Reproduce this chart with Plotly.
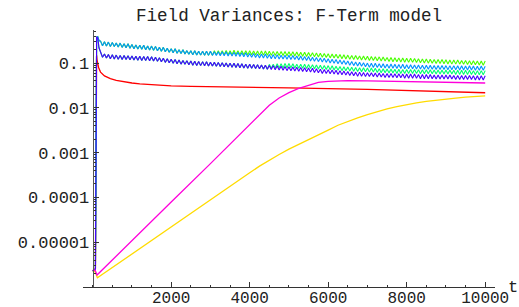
import plotly.graph_objects as go

# ---------------- data ----------------
title_text = "Field Variances: F-Term model"
x_tick_vals = [2000, 4000, 6000, 8000, 10000]
x_tick_text = ["2000", "4000", "6000", "8000", "10000"]
y_tick_vals = [1e-5, 1e-4, 1e-3, 1e-2, 1e-1]
y_tick_text = ["0.00001", "0.0001", "0.001", "0.01", "0.1"]

# smooth series
red_t = [0, 70, 100, 110, 150, 200, 300, 450, 600, 800, 1000, 1200, 1500, 2000, 2500, 3500, 5000, 7000, 8500, 10000]
red_v = [2.3e-6, 2.6e-6, 0.15, 0.12, 0.08, 0.063, 0.052, 0.045, 0.041, 0.038, 0.036, 0.0345, 0.0328, 0.0312, 0.0303, 0.0296, 0.028, 0.026, 0.0235, 0.0218]

yellow_t = [0, 60, 120, 1000, 2000, 3000, 3500, 4000, 4250, 4500, 4750, 5000, 5250, 5500, 5750, 6000,
            6250, 6500, 6750, 7000, 7250, 7500, 7750, 8000, 8250, 8500, 8750, 9000, 9250, 9500, 9750, 10000]
yellow_v = [2.3e-6, 2.2e-6, 1.6e-6, 5.5e-6, 2.2e-5, 8.7e-5, 1.78e-4, 3.55e-4, 5.0e-4, 6.8e-4, 9.1e-4, 1.2e-3, 1.55e-3, 2.0e-3, 2.5e-3, 3.2e-3,
            4.1e-3, 5.0e-3, 6.0e-3, 7.1e-3, 8.3e-3, 9.5e-3, 1.07e-2, 0.012, 0.013, 0.014, 0.015, 0.016, 0.0166, 0.0174, 0.018, 0.0186]

magenta_t = [0, 60, 110, 1000, 2000, 3000, 3500, 4000, 4250, 4500, 4750, 5000, 5250, 5500, 5750, 6000, 6500, 7000, 8000, 9000, 10000]
magenta_v = [2.3e-6, 2.4e-6, 1.85e-6, 1.1e-5, 7.9e-5, 5.7e-4, 1.55e-3, 4.2e-3, 7.2e-3, 0.0115, 0.0166, 0.0219, 0.0272, 0.0316, 0.0372, 0.039, 0.0407, 0.040, 0.039, 0.037, 0.036]

# noisy series: start-up spike, then oscillation peaks (t = 200, 300, ..., 10000)
# and troughs (t = 250, 350, ..., 9950)
spike_t = [0, 70, 100, 130, 160]
peak_t = list(range(200, 10001, 100))
trough_t = list(range(250, 9951, 100))

azure_spike = [2.3e-6, 2.5e-6, 0.37, 0.39, 0.32]
azure_peaks = [
    0.31, 0.30, 0.295, 0.29, 0.28, 0.28, 0.27, 0.27, 0.26, 0.255,
    0.25, 0.25, 0.24, 0.24, 0.235, 0.225, 0.225, 0.215, 0.21, 0.21,
    0.20, 0.20, 0.19, 0.19, 0.19, 0.185, 0.185, 0.185, 0.185, 0.18,
    0.18, 0.18, 0.18, 0.175, 0.175, 0.175, 0.17, 0.17, 0.165, 0.165,
    0.16, 0.16, 0.16, 0.155, 0.155, 0.155, 0.15, 0.15, 0.15, 0.148,
    0.145, 0.144, 0.14, 0.14, 0.136, 0.134, 0.13, 0.128, 0.125, 0.122,
    0.12, 0.117, 0.114, 0.111, 0.109, 0.106, 0.104, 0.102, 0.10, 0.099,
    0.099, 0.097, 0.097, 0.095, 0.096, 0.094, 0.093, 0.094, 0.092, 0.092,
    0.091, 0.091, 0.09, 0.09, 0.09, 0.089, 0.089, 0.089, 0.088, 0.088,
    0.088, 0.087, 0.087, 0.086, 0.087, 0.086, 0.085, 0.086, 0.085,
]
azure_troughs = [
    0.245, 0.24, 0.235, 0.235, 0.23, 0.225, 0.22, 0.215, 0.21, 0.208,
    0.204, 0.20, 0.197, 0.193, 0.189, 0.184, 0.18, 0.175, 0.171, 0.167,
    0.164, 0.16, 0.157, 0.153, 0.152, 0.151, 0.15, 0.149, 0.149, 0.148,
    0.147, 0.146, 0.145, 0.144, 0.142, 0.14, 0.139, 0.137, 0.135, 0.133,
    0.131, 0.13, 0.128, 0.126, 0.125, 0.124, 0.123, 0.122, 0.121, 0.12,
    0.118, 0.116, 0.114, 0.112, 0.11, 0.108, 0.106, 0.104, 0.101, 0.099,
    0.097, 0.095, 0.093, 0.09, 0.088, 0.086, 0.085, 0.083, 0.081, 0.08,
    0.08, 0.079, 0.078, 0.077, 0.077, 0.076, 0.076, 0.075, 0.075, 0.075,
    0.074, 0.074, 0.073, 0.073, 0.073, 0.072, 0.072, 0.072, 0.071, 0.071,
    0.071, 0.07, 0.07, 0.07, 0.07, 0.069, 0.069, 0.069,
]

green_spike = [2.3e-6, 2.5e-6, 0.37, 0.39, 0.32]
green_peaks = [
    0.31, 0.30, 0.295, 0.29, 0.28, 0.28, 0.27, 0.27, 0.26, 0.255,
    0.25, 0.25, 0.24, 0.24, 0.235, 0.225, 0.225, 0.215, 0.21, 0.21,
    0.20, 0.20, 0.19, 0.19, 0.19, 0.185, 0.185, 0.185, 0.185, 0.19,
    0.19, 0.188, 0.192, 0.19, 0.193, 0.19, 0.19, 0.188, 0.19, 0.187,
    0.187, 0.186, 0.186, 0.184, 0.183, 0.182, 0.182, 0.181, 0.18, 0.179,
    0.177, 0.175, 0.174, 0.172, 0.17, 0.169, 0.167, 0.164, 0.162, 0.16,
    0.158, 0.155, 0.153, 0.151, 0.149, 0.148, 0.145, 0.144, 0.142, 0.141,
    0.139, 0.138, 0.137, 0.134, 0.133, 0.132, 0.131, 0.13, 0.129, 0.128,
    0.127, 0.125, 0.124, 0.123, 0.122, 0.121, 0.121, 0.12, 0.119, 0.118,
    0.117, 0.117, 0.115, 0.114, 0.113, 0.113, 0.112, 0.111, 0.111,
]
green_troughs = [
    0.245, 0.24, 0.235, 0.235, 0.23, 0.225, 0.22, 0.215, 0.21, 0.208,
    0.204, 0.20, 0.197, 0.193, 0.189, 0.184, 0.18, 0.175, 0.171, 0.167,
    0.164, 0.16, 0.157, 0.153, 0.152, 0.151, 0.15, 0.149, 0.149, 0.153,
    0.153, 0.154, 0.154, 0.155, 0.155, 0.154, 0.154, 0.153, 0.153, 0.152,
    0.151, 0.151, 0.15, 0.149, 0.149, 0.148, 0.148, 0.147, 0.146, 0.145,
    0.143, 0.142, 0.141, 0.14, 0.138, 0.137, 0.135, 0.133, 0.131, 0.13,
    0.128, 0.126, 0.124, 0.122, 0.121, 0.12, 0.118, 0.117, 0.115, 0.114,
    0.113, 0.112, 0.111, 0.109, 0.108, 0.107, 0.106, 0.105, 0.104, 0.104,
    0.103, 0.102, 0.101, 0.10, 0.099, 0.098, 0.098, 0.097, 0.096, 0.095,
    0.095, 0.095, 0.094, 0.093, 0.092, 0.092, 0.091, 0.09,
]

purple_spike = [2.3e-6, 2.5e-6, 0.39, 0.36, 0.22]
purple_peaks = [
    0.18, 0.16, 0.155, 0.153, 0.151, 0.149, 0.148, 0.146, 0.144, 0.143,
    0.142, 0.141, 0.14, 0.139, 0.135, 0.132, 0.129, 0.125, 0.122, 0.12,
    0.118, 0.115, 0.113, 0.111, 0.11, 0.109, 0.108, 0.107, 0.105, 0.104,
    0.103, 0.102, 0.101, 0.10, 0.099, 0.098, 0.097, 0.095, 0.094, 0.093,
    0.092, 0.091, 0.09, 0.089, 0.088, 0.087, 0.085, 0.084, 0.083, 0.082,
    0.081, 0.08, 0.079, 0.078, 0.077, 0.075, 0.073, 0.072, 0.071, 0.07,
    0.069, 0.068, 0.067, 0.065, 0.064, 0.063, 0.063, 0.062, 0.061, 0.061,
    0.06, 0.06, 0.059, 0.059, 0.059, 0.058, 0.058, 0.057, 0.057, 0.057,
    0.057, 0.056, 0.056, 0.056, 0.056, 0.054, 0.054, 0.054, 0.054, 0.054,
    0.053, 0.053, 0.053, 0.053, 0.053, 0.052, 0.052, 0.052, 0.052,
]
purple_troughs = [
    0.135, 0.13, 0.126, 0.124, 0.122, 0.121, 0.12, 0.119, 0.117, 0.116,
    0.115, 0.114, 0.113, 0.112, 0.11, 0.107, 0.104, 0.102, 0.099, 0.097,
    0.095, 0.094, 0.092, 0.09, 0.089, 0.088, 0.087, 0.086, 0.086, 0.085,
    0.084, 0.083, 0.082, 0.081, 0.08, 0.079, 0.078, 0.077, 0.077, 0.076,
    0.075, 0.074, 0.073, 0.072, 0.071, 0.07, 0.069, 0.068, 0.068, 0.067,
    0.066, 0.065, 0.064, 0.063, 0.062, 0.061, 0.059, 0.059, 0.058, 0.057,
    0.056, 0.055, 0.054, 0.053, 0.052, 0.051, 0.051, 0.05, 0.05, 0.05,
    0.049, 0.049, 0.048, 0.048, 0.048, 0.047, 0.047, 0.046, 0.046, 0.046,
    0.046, 0.045, 0.045, 0.045, 0.045, 0.044, 0.044, 0.044, 0.044, 0.044,
    0.043, 0.043, 0.043, 0.043, 0.043, 0.042, 0.042, 0.042,
]

teal_spike = [2.3e-6, 2.5e-6, 0.39, 0.36, 0.22]
teal_peaks = [
    0.18, 0.16, 0.155, 0.153, 0.151, 0.149, 0.148, 0.146, 0.144, 0.143,
    0.142, 0.141, 0.14, 0.139, 0.135, 0.132, 0.129, 0.125, 0.122, 0.12,
    0.118, 0.115, 0.113, 0.111, 0.11, 0.109, 0.108, 0.107, 0.105, 0.104,
    0.103, 0.102, 0.101, 0.10, 0.099, 0.098, 0.097, 0.095, 0.094, 0.093,
    0.092, 0.091, 0.09, 0.094, 0.095, 0.097, 0.097, 0.098, 0.098, 0.097,
    0.095, 0.094, 0.094, 0.093, 0.092, 0.091, 0.09, 0.089, 0.088, 0.087,
    0.085, 0.084, 0.083, 0.082, 0.081, 0.08, 0.079, 0.079, 0.078, 0.078,
    0.077, 0.075, 0.075, 0.074, 0.074, 0.073, 0.073, 0.072, 0.072, 0.072,
    0.072, 0.071, 0.071, 0.071, 0.071, 0.07, 0.07, 0.07, 0.07, 0.07,
    0.069, 0.069, 0.069, 0.069, 0.069, 0.068, 0.068, 0.068, 0.068,
]
teal_troughs = [
    0.135, 0.13, 0.126, 0.124, 0.122, 0.121, 0.12, 0.119, 0.117, 0.116,
    0.115, 0.114, 0.113, 0.112, 0.11, 0.107, 0.104, 0.102, 0.099, 0.097,
    0.095, 0.094, 0.092, 0.09, 0.089, 0.088, 0.087, 0.086, 0.086, 0.085,
    0.084, 0.083, 0.082, 0.081, 0.08, 0.079, 0.078, 0.077, 0.077, 0.076,
    0.075, 0.074, 0.073, 0.077, 0.077, 0.078, 0.078, 0.079, 0.079, 0.078,
    0.077, 0.077, 0.076, 0.076, 0.075, 0.074, 0.073, 0.072, 0.071, 0.07,
    0.069, 0.068, 0.068, 0.067, 0.066, 0.065, 0.064, 0.064, 0.063, 0.063,
    0.062, 0.061, 0.061, 0.06, 0.06, 0.059, 0.059, 0.059, 0.059, 0.059,
    0.059, 0.058, 0.058, 0.058, 0.058, 0.057, 0.057, 0.057, 0.057, 0.057,
    0.056, 0.056, 0.056, 0.056, 0.056, 0.055, 0.055, 0.055,
]


def band(spike_vals, peaks, troughs):
    """Merge the read peak/trough samples into one time-ordered series."""
    t = list(spike_t)
    v = list(spike_vals)
    for i, p in enumerate(peaks):
        t.append(peak_t[i])
        v.append(p)
        if i < len(troughs):
            t.append(trough_t[i])
            v.append(troughs[i])
    return t, v


# ---------------- figure ----------------
W, H = 519, 307
L, R, T, B = 83, 24, 30, 20
x_range = [-247, 10250]
y_range_log = [-6.0, -0.26]

fig = go.Figure()


def add(t, v, color, width=1.3):
    fig.add_trace(go.Scatter(x=t, y=v, mode="lines",
                             line=dict(color=color, width=width),
                             showlegend=False, hoverinfo="skip"))


# draw order follows Hue order (red first, magenta last)
add(red_t, red_v, "#FF0000")
add(yellow_t, yellow_v, "#FFDB00")
add(*band(green_spike, green_peaks, green_troughs), "#49FF00", 1.1)
add(*band(teal_spike, teal_peaks, teal_troughs), "#00FF6D", 1.1)
add(*band(azure_spike, azure_peaks, azure_troughs), "#0092FF", 1.1)
add(*band(purple_spike, purple_peaks, purple_troughs), "#4900FF", 1.1)
add(magenta_t, magenta_v, "#FF00DB")

y_tick_font = dict(family="Liberation Mono", size=17, color="#222")
x_tick_font = dict(family="Liberation Mono", size=16, color="#222")
y_pos = (0 - x_range[0]) / (x_range[1] - x_range[0])

fig.update_layout(
    template="none",
    width=W, height=H, autosize=False,
    margin=dict(l=L, r=R, t=T, b=B, pad=0),
    paper_bgcolor="white", plot_bgcolor="white",
    title=dict(text=title_text, x=0.5, xref="paper", y=1 - 15 / H,
               yref="container", xanchor="center", yanchor="middle",
               font=dict(family="Liberation Mono", size=17.6, color="#222")),
    xaxis=dict(range=x_range, showgrid=False, zeroline=False, automargin=False,
               showline=True, linecolor="#333", linewidth=1,
               tickvals=x_tick_vals, ticktext=x_tick_text,
               ticks="inside", ticklen=5, tickcolor="#333", tickwidth=1,
               ticklabelstandoff=-4,
               minor=dict(dtick=500, ticks="inside", ticklen=2.5, tickcolor="#333"),
               tickfont=x_tick_font),
    yaxis=dict(type="log", range=y_range_log, showgrid=False, zeroline=False,
               automargin=False, anchor="free", position=y_pos,
               showline=True, linecolor="#555", linewidth=1,
               tickvals=y_tick_vals, ticktext=y_tick_text,
               ticks="inside", ticklen=5, tickcolor="#333", tickwidth=1,
               minor=dict(dtick="D1", ticks="inside", ticklen=2.5, tickcolor="#333"),
               tickfont=y_tick_font),
    annotations=[dict(text="t", x=(513 - L) / (W - L - R), y=0.0,
                      xref="paper", yref="paper", showarrow=False,
                      xanchor="center", yanchor="middle", font=y_tick_font)],
)

fig.write_html("out.html", config={"displayModeBar": False},
               post_script="document.body.style.margin='0';document.body.style.overflow='hidden';")
